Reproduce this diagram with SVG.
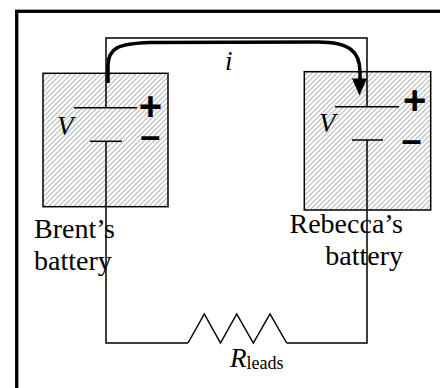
<svg xmlns="http://www.w3.org/2000/svg" width="440" height="388" viewBox="0 0 440 388">
<defs>
<pattern id="hatch" patternUnits="userSpaceOnUse" width="5" height="5">
<path d="M-1,1 L1,-1 M0,5 L5,0 M4,6 L6,4" stroke="#c2c2c2" stroke-width="1.3"/>
</pattern>
</defs>
<style>
.wire{fill:none;stroke:#000;stroke-width:1.5}
.box{fill:url(#hatch);stroke:#000;stroke-width:1.5}
.lbl{font-family:"Liberation Serif",serif;font-size:28px;fill:#000}
.it{font-family:"Liberation Serif",serif;font-style:italic;font-size:27px;fill:#000}
.sign{font-family:"Liberation Sans",sans-serif;font-weight:bold;fill:#000;text-anchor:middle}
</style>
<rect x="16.7" y="11.3" width="460" height="420" fill="#fff" stroke="#000" stroke-width="3.3"/>
<g id="brent">
<rect class="box" x="43" y="73.3" width="125" height="133.4"/>
<line x1="74" y1="107.7" x2="137" y2="107.7" stroke="#000" stroke-width="1.5"/>
<line x1="90" y1="141.3" x2="122" y2="141.3" stroke="#000" stroke-width="1.5"/>
<text class="it" x="57" y="135">V</text>
<text class="sign" x="150.5" y="119.5" font-size="40">+</text>
<text class="sign" x="150.3" y="148" font-size="36">–</text>
<text class="lbl" x="34" y="238">Brent’s</text>
<text class="lbl" x="34" y="270">battery</text>
</g>
<g id="rebecca">
<rect class="box" x="304.3" y="71.7" width="126.4" height="138.3"/>
<line x1="335" y1="106.7" x2="399" y2="106.7" stroke="#000" stroke-width="1.5"/>
<line x1="352" y1="140" x2="383" y2="140" stroke="#000" stroke-width="1.5"/>
<text class="it" x="319" y="132">V</text>
<text class="sign" x="414.7" y="114" font-size="40">+</text>
<text class="sign" x="411.5" y="151.5" font-size="36">–</text>
<text class="lbl" x="403" y="233" text-anchor="end">Rebecca’s</text>
<text class="lbl" x="403" y="265" text-anchor="end">battery</text>
</g>
<g id="resistor">
<polyline class="wire" points="188,343 204.3,314 220.5,343 236.7,314 253.3,343 270,314 286.7,343"/>
<text class="it" x="230" y="367">R<tspan font-size="18" font-style="normal" dy="2">leads</tspan></text>
</g>
<g id="connectors">
<polyline class="wire" points="106,107.7 106,38 367,38 367,106.7"/>
<polyline class="wire" points="106,141.3 106,343 188,343"/>
<polyline class="wire" points="286.7,343 367,343 367,140"/>
<path d="M108,83 L108,66 C108,48 118,43.5 150,42.5 L318,42 C350,42 360,52 360,72 L360,80" fill="none" stroke="#000" stroke-width="3.5"/>
<polygon points="352,78.5 367,78.5 359.5,95.5" fill="#000"/>
<text class="it" x="225" y="70" font-size="24">i</text>
</g>
</svg>
